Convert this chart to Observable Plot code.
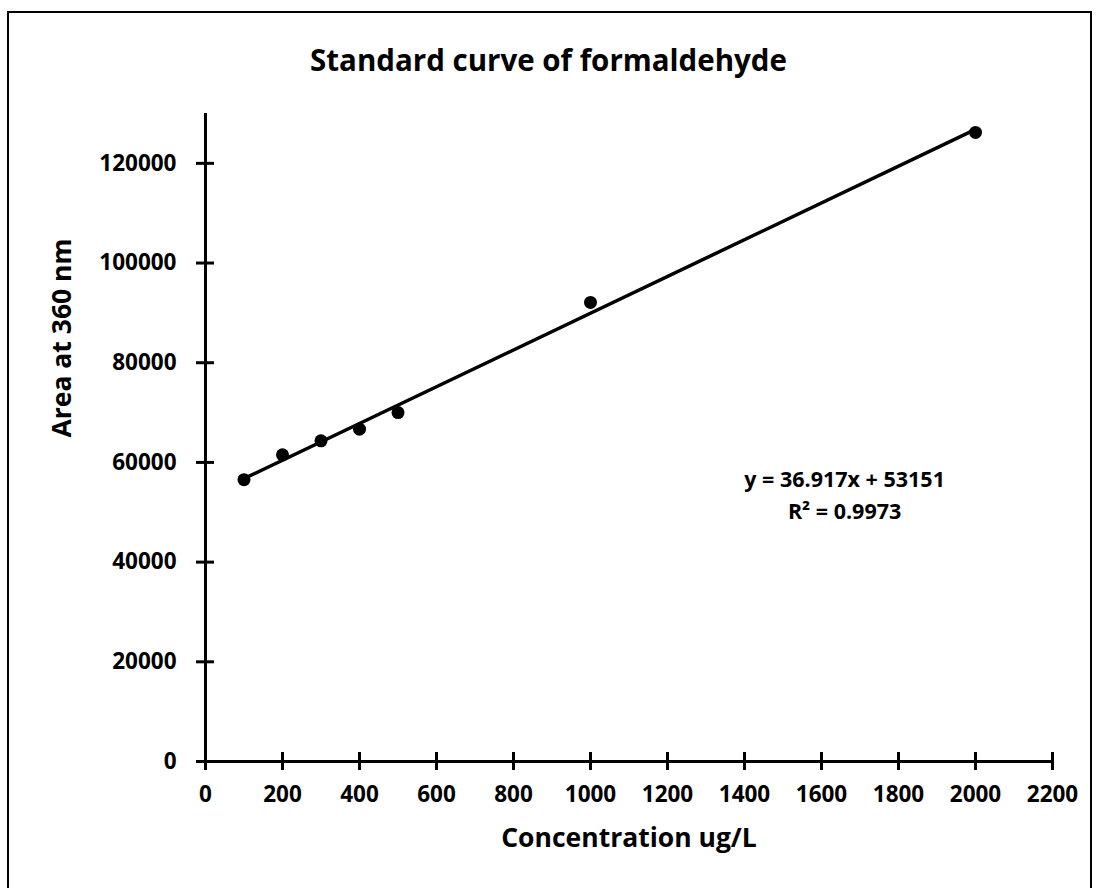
<!DOCTYPE html>
<html>
<head>
<meta charset="utf-8">
<script src="https://cdn.jsdelivr.net/npm/d3@7"></script>
<script src="https://cdn.jsdelivr.net/npm/@observablehq/plot@0.6"></script>
<style>
  html, body { margin: 0; padding: 0; background: #fff; }
  #wrap { position: relative; width: 1097px; height: 888px; overflow: hidden; font-family: "Open Sans", sans-serif; }
  #frame { position: absolute; left: 7px; top: 11px; width: 1085px; height: 900px; border: 2px solid #000; box-sizing: border-box; }
  #title { position: absolute; left: 0; top: 41px; width: 1097px; text-align: center; font-size: 29.5px; font-weight: 700; color: #000; line-height: 1.3; }
  #chart { position: absolute; left: 0; top: 100px; }
</style>
</head>
<body>
<div id="wrap">
  <div id="frame"></div>
  <div id="title">Standard curve of formaldehyde</div>
  <div id="chart"></div>
</div>
<script>
// Data
const concentration = [100, 200, 300, 400, 500, 1000, 2000];
const area = [56540, 61530, 64330, 66670, 70000, 92100, 126200];
const xTicks = [0, 200, 400, 600, 800, 1000, 1200, 1400, 1600, 1800, 2000, 2200];
const yTicks = [0, 20000, 40000, 60000, 80000, 100000, 120000];
const annotationLines = ["y = 36.917x + 53151", "R² = 0.9973"];
const xLabel = "Concentration ug/L";
const yLabel = "Area at 360 nm";

const data = concentration.map((c, i) => ({x: c, y: area[i]}));

const chart = Plot.plot({
  width: 1097,
  height: 788,
  marginTop: 13,
  marginLeft: 205,
  marginRight: 45,
  marginBottom: 127,
  style: {fontFamily: "Open Sans, sans-serif", fontSize: "22px", fontWeight: "700", color: "#000", background: "transparent"},
  x: {domain: [0, 2200]},
  y: {domain: [0, 130000]},
  marks: [
    Plot.axisX({ticks: xTicks, tickSize: 18, insetBottom: 9, tickPadding: 16, strokeWidth: 3, tickFormat: d => String(d), label: null, fontSize: 22.5, fontWeight: 700}),
    Plot.axisY({ticks: yTicks, tickSize: 18, insetLeft: 9, tickPadding: 20, strokeWidth: 3, tickFormat: d => String(d), label: null, fontSize: 22.5, fontWeight: 700}),
    Plot.ruleX([0], {stroke: "#000", strokeWidth: 3}),
    Plot.ruleY([0], {stroke: "#000", strokeWidth: 3}),
    Plot.linearRegressionY(data, {x: "x", y: "y", ci: 0, stroke: "#000", strokeWidth: 3.5}),
    Plot.dot(data, {x: "x", y: "y", r: 6.5, fill: "#000", stroke: "none"}),
    Plot.text([annotationLines.join("\n")], {x: 1660, y: 54000, text: d => d, textAnchor: "middle", lineAnchor: "middle", lineHeight: 1.5, fontSize: 21.5, fontWeight: 700, fill: "#000"}),
    Plot.text([xLabel], {frameAnchor: "bottom", dy: 77, text: d => d, lineAnchor: "middle", fontSize: 26.5, fontWeight: 700, fill: "#000"}),
    Plot.text([yLabel], {frameAnchor: "left", dx: -143, rotate: -90, text: d => d, lineAnchor: "middle", fontSize: 26.5, fontWeight: 700, fill: "#000"})
  ]
});
document.getElementById("chart").appendChild(chart);
</script>
</body>
</html>
